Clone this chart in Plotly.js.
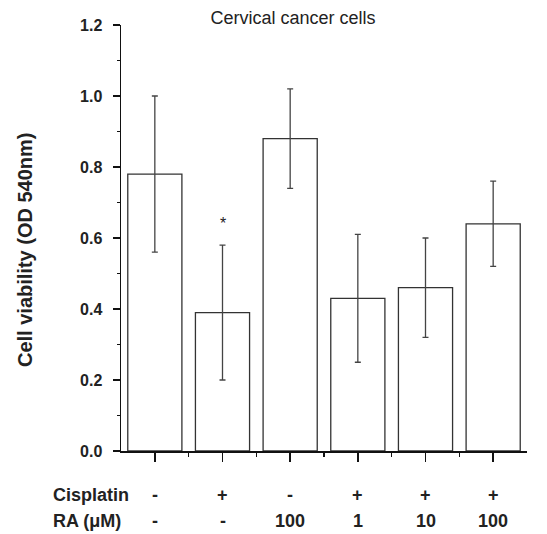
<!DOCTYPE html>
<html><head><meta charset="utf-8">
<script src="https://cdn.plot.ly/plotly-3.0.1.min.js"></script>
<style>body{margin:0;background:#fff}#chart{width:547px;height:534px}</style>
</head><body><div id="chart"></div>
<script>
const groups = [0, 1, 2, 3, 4, 5];
const viability = [0.78, 0.39, 0.88, 0.43, 0.46, 0.64];
const errors = [0.22, 0.19, 0.14, 0.18, 0.14, 0.12];
const cisplatinLabels = ['-', '+', '-', '+', '+', '+'];
const raLabels = ['-', '-', '100', '1', '10', '100'];
const yTicks = [0, 0.2, 0.4, 0.6, 0.8, 1.0, 1.2];
const yMinor = [0.1, 0.3, 0.5, 0.7, 0.9, 1.1];
const xMinor = [0.5, 1.5, 2.5, 3.5, 4.5];
const starGroup = 1, starY = 0.64;

const F = 'Liberation Sans, Arial, sans-serif';
const L = 121, R = 20, T = 25, B = 83, H = 534 - T - B, W = 547 - L - R;
const rowY = py => (534 - B - py) / H;
const colX = px => (px - L) / W;
const trace = {
  type: 'bar', x: groups, y: viability, width: 0.8,
  marker: {color: '#ffffff', line: {color: '#333333', width: 1.3}},
  error_y: {type: 'data', array: errors, visible: true, color: '#444444', thickness: 1.3, width: 3}
};
const lf = {family: F, size: 18, color: '#222'};
const ann = [];
groups.forEach((g, i) => {
  ann.push({x: g, y: rowY(495), xref: 'x', yref: 'paper', yanchor: 'middle', text: '<b>' + cisplatinLabels[i] + '</b>', showarrow: false, font: lf});
  ann.push({x: g, y: rowY(521), xref: 'x', yref: 'paper', yanchor: 'middle', text: '<b>' + raLabels[i] + '</b>', showarrow: false, font: lf});
});
ann.push({x: colX(51), xref: 'paper', xanchor: 'left', y: rowY(495), yref: 'paper', yanchor: 'middle', text: '<b>Cisplatin</b>', showarrow: false, font: lf});
ann.push({x: colX(51), xref: 'paper', xanchor: 'left', y: rowY(521), yref: 'paper', yanchor: 'middle', text: '<b>RA (μM)</b>', showarrow: false, font: lf});
ann.push({x: colX(25), xref: 'paper', xanchor: 'center', y: rowY(250), yref: 'paper', yanchor: 'middle', textangle: -90,
  text: '<b>Cell viability (OD 540nm)</b>', showarrow: false, font: {family: F, size: 20, color: '#222'}});
ann.push({x: starGroup, y: starY, xref: 'x', yref: 'y', text: '*', showarrow: false, font: {family: F, size: 16, color: '#222'}});

const layout = {
  width: 547, height: 534,
  margin: {l: L, r: R, t: T, b: B},
  paper_bgcolor: '#fff', plot_bgcolor: '#fff',
  showlegend: false,
  font: {family: F, color: '#222'},
  title: {text: 'Cervical cancer cells', font: {family: F, size: 18, color: '#222'}, x: 293 / 547, xanchor: 'center', xref: 'container', y: 1 - 18 / 534, yanchor: 'middle', yref: 'container'},
  xaxis: {range: [-0.5, 5.5], showline: true, linecolor: '#111', linewidth: 1.5, showgrid: false, zeroline: false,
    tickvals: groups, ticks: 'outside', ticklen: 9, tickwidth: 1.5, tickcolor: '#111', showticklabels: false,
    minor: {tickvals: xMinor, ticks: 'outside', ticklen: 4, tickwidth: 1.5, tickcolor: '#111'}},
  yaxis: {range: [0, 1.2], showline: true, linecolor: '#111', linewidth: 1.5, showgrid: false, zeroline: false,
    tickvals: yTicks, tickformat: '.1f', ticks: 'outside', ticklen: 7, tickwidth: 1.5, tickcolor: '#111',
    ticklabelstandoff: 7,
    tickfont: {family: F, size: 16, color: '#222', weight: 'bold'},
    minor: {tickvals: yMinor, ticks: 'outside', ticklen: 3, tickwidth: 1.5, tickcolor: '#111'}},
  annotations: ann
};
Plotly.newPlot('chart', [trace], layout, {staticPlot: true});
</script></body></html>
